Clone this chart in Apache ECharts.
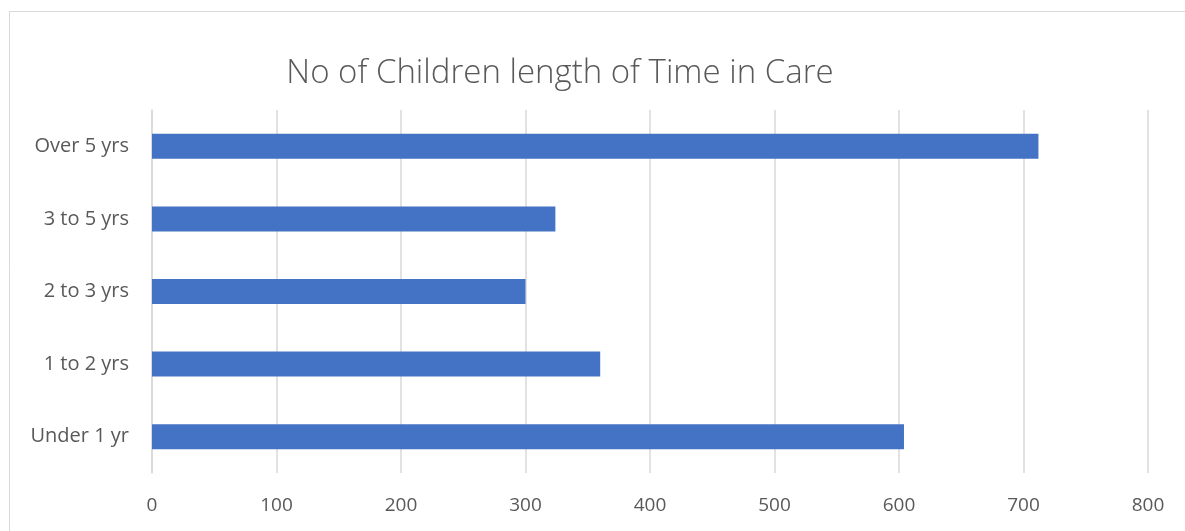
<!DOCTYPE html>
<html>
<head>
<meta charset="utf-8">
<title>No of Children length of Time in Care</title>
<script src="https://cdn.jsdelivr.net/npm/echarts@6/dist/echarts.min.js"></script>
<style>
  html, body { margin: 0; padding: 0; background: #fff; }
  #main { width: 1185px; height: 531px; }
</style>
</head>
<body>
<div id="main"></div>
<script type="text/javascript">
    // data
    var categories = ['Under 1 yr', '1 to 2 yrs', '2 to 3 yrs', '3 to 5 yrs', 'Over 5 yrs'];
    var childCounts = [604, 360, 300, 324, 712];
    var xTicks = { min: 0, max: 800, interval: 100 };

    var textColor = '#595959';
    var chart = echarts.init(document.getElementById('main'));
    chart.setOption({
        animation: false,
        textStyle: { fontFamily: 'Open Sans' },
        graphic: [{
            type: 'rect',
            shape: { x: 9.5, y: 11.5, width: 1190, height: 530 },
            style: { fill: 'none', stroke: '#d9d9d9', lineWidth: 1 },
            silent: true
        }],
        title: {
            text: 'No of Children length of Time in Care',
            left: 555,
            textAlign: 'center',
            top: 52,
            textStyle: { color: textColor, fontSize: 33, fontWeight: 300, fontFamily: 'Open Sans' }
        },
        grid: { left: 152, right: 37, top: 110, bottom: 58 },
        xAxis: {
            type: 'value',
            min: xTicks.min,
            max: xTicks.max,
            interval: xTicks.interval,
            axisLine: { show: false },
            axisTick: { show: false },
            axisLabel: { color: textColor, fontSize: 19, margin: 23 },
            splitLine: { lineStyle: { color: '#d9d9d9', width: 1.5 } }
        },
        yAxis: {
            type: 'category',
            data: categories,
            axisLine: { show: true, lineStyle: { color: '#d9d9d9', width: 1.5 } },
            axisTick: { show: false },
            axisLabel: { color: textColor, fontSize: 20, margin: 23 }
        },
        series: [{
            type: 'bar',
            data: childCounts,
            barWidth: 25,
            itemStyle: { color: '#4472C4' }
        }]
    });
</script>
</body>
</html>
